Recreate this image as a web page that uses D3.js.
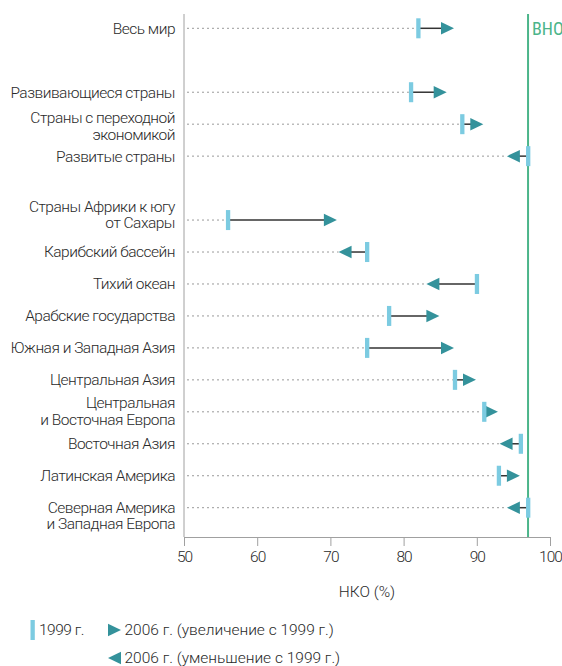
<!DOCTYPE html>
<html><head><meta charset="utf-8">
<script src="https://cdn.jsdelivr.net/npm/d3@7"></script>
<style>
html,body{margin:0;padding:0;background:#fff;}
svg text{font-family:Roboto,"Noto Sans",sans-serif;}
</style></head>
<body>
<svg id="chart" width="562" height="666"></svg>
<script>
// ---- data ----
const regions = [
  "Весь мир",
  "",
  "Развивающиеся страны",
  "Страны с переходной\nэкономикой",
  "Развитые страны",
  "",
  "Страны Африки к югу\nот Сахары",
  "Карибский бассейн",
  "Тихий океан",
  "Арабские государства",
  "Южная и Западная Азия",
  "Центральная Азия",
  "Центральная\nи Восточная Европа",
  "Восточная Азия",
  "Латинская Америка",
  "Северная Америка\nи Западная Европа"
];
const ner1999 = [82, null, 81, 88, 97, null, 56, 75, 90, 78, 75, 87, 91, 96, 93, 97];
const ner2006 = [86, null, 85, 90, 95, null, 70, 72, 84, 84, 86, 89, 92, 94, 95, 95];
const xTicks = [50, 60, 70, 80, 90, 100];
const upeTarget = 97;
const upeLabel = "ВНО";
const xTitle = "НКО (%)";
const legendLabels = ["1999 г.", "2006 г. (увеличение с 1999 г.)", "2006 г. (уменьшение с 1999 г.)"];

// ---- layout ----
const svg = d3.select("#chart");
const C = {bar:"#7ccbe1", tri:"#34929b", conn:"#333", upe:"#4bb58a", axis:"#a0a0a0", text:"#2a2a2a"};
const FS = 15.5;
const x = d3.scaleLinear().domain([50, 100]).range([184, 550]);
const y = d3.scalePoint().domain(d3.range(regions.length)).range([28.3, 507.7]);
const labelShift = {3: 2, 6: -5.7, 12: -0.6, 15: 8};
const lineH = 16.3;

// axis frame
svg.append("line").attr("x1", x(50)).attr("x2", x(50)).attr("y1", 14).attr("y2", 537)
  .attr("stroke", C.axis).attr("stroke-width", 1);
const xAxis = d3.axisBottom(x).tickValues(xTicks).tickSize(9).tickPadding(5).tickFormat(d3.format("d"));
const gx = svg.append("g").attr("transform", "translate(0,537)").call(xAxis);
gx.select(".domain").attr("stroke", C.axis);
gx.selectAll(".tick line").attr("stroke", C.axis);
gx.selectAll(".tick text").attr("fill", C.text).attr("font-size", FS).attr("font-weight", 300)
  .attr("font-family", "Roboto").attr("letter-spacing", -1);

svg.append("text").attr("x", x(75)).attr("y", 592).attr("dy", "0.35em").attr("text-anchor", "middle")
  .attr("fill", C.text).attr("font-size", FS).attr("font-weight", 300)
  .text(xTitle);

// UPE line
svg.append("line").attr("x1", x(upeTarget)).attr("x2", x(upeTarget)).attr("y1", 14).attr("y2", 537)
  .attr("stroke", C.upe).attr("stroke-width", 2);
svg.append("text").attr("x", x(upeTarget) + 4).attr("y", 28.3).attr("dy", "0.36em")
  .attr("fill", C.upe).attr("font-size", 18).attr("font-family", "'DejaVu Sans Condensed','DejaVu Sans'")
  .attr("font-stretch", "condensed")
  .text(upeLabel);

const rows = regions.map((r, i) => ({i, name: r, a: ner1999[i], b: ner2006[i]})).filter(d => d.a != null);

// labels
rows.forEach(d => {
  const lines = d.name.split("\n");
  const yc = y(d.i) + (labelShift[d.i] || 0);
  const t = svg.append("text").attr("text-anchor", "end").attr("fill", C.text)
    .attr("font-size", FS).attr("font-weight", 300).attr("letter-spacing", -0.5);
  lines.forEach((l, k) => {
    t.append("tspan").attr("x", 175)
      .attr("y", yc + (k - (lines.length - 1) / 2) * lineH)
      .attr("dy", "0.35em").text(l);
  });
});

const triPath = (dir) => {
  const w = 13, h = 12.5;
  return dir > 0
    ? `M${-w/2},${-h/2}L${w/2},0L${-w/2},${h/2}Z`
    : `M${w/2},${-h/2}L${-w/2},0L${w/2},${h/2}Z`;
};

const g = svg.append("g");
rows.forEach(d => {
  const yy = y(d.i);
  const dir = d.b >= d.a ? 1 : -1;
  const leftEnd = Math.min(x(d.a) - 2, x(d.b) - 6.5);
  // dotted guide
  g.append("line").attr("x1", x(50) + 3).attr("x2", leftEnd).attr("y1", yy).attr("y2", yy)
    .attr("stroke", "#9a9a9a").attr("stroke-width", 1).attr("stroke-dasharray", "2,3");
  // connector
  g.append("line").attr("x1", x(d.a)).attr("x2", x(d.b) - dir * 4).attr("y1", yy).attr("y2", yy)
    .attr("stroke", C.conn).attr("stroke-width", 1.5);
  // 2006 triangle
  g.append("path").attr("d", triPath(dir)).attr("transform", `translate(${x(d.b)},${yy})`)
    .attr("fill", C.tri);
  // 1999 bar
  g.append("rect").attr("x", x(d.a) - 2).attr("y", yy - 10).attr("width", 4.3).attr("height", 20)
    .attr("fill", C.bar);
});

// legend
const lg = svg.append("g");
lg.append("rect").attr("x", 30.5).attr("y", 620).attr("width", 4.3).attr("height", 20).attr("fill", C.bar);
lg.append("text").attr("x", 39).attr("y", 630).attr("dy", "0.35em").attr("fill", C.text)
  .attr("font-size", FS).attr("font-weight", 300).attr("letter-spacing", -0.5).text(legendLabels[0]);
lg.append("path").attr("d", triPath(1)).attr("transform", "translate(114.5,630)").attr("fill", C.tri);
lg.append("text").attr("x", 124.5).attr("y", 630).attr("dy", "0.35em").attr("fill", C.text)
  .attr("font-size", FS).attr("font-weight", 300).attr("letter-spacing", 0).text(legendLabels[1]);
lg.append("path").attr("d", triPath(-1)).attr("transform", "translate(114.5,658)").attr("fill", C.tri);
lg.append("text").attr("x", 124.5).attr("y", 658).attr("dy", "0.35em").attr("fill", C.text)
  .attr("font-size", FS).attr("font-weight", 300).attr("letter-spacing", 0).text(legendLabels[2]);
</script>
</body></html>
